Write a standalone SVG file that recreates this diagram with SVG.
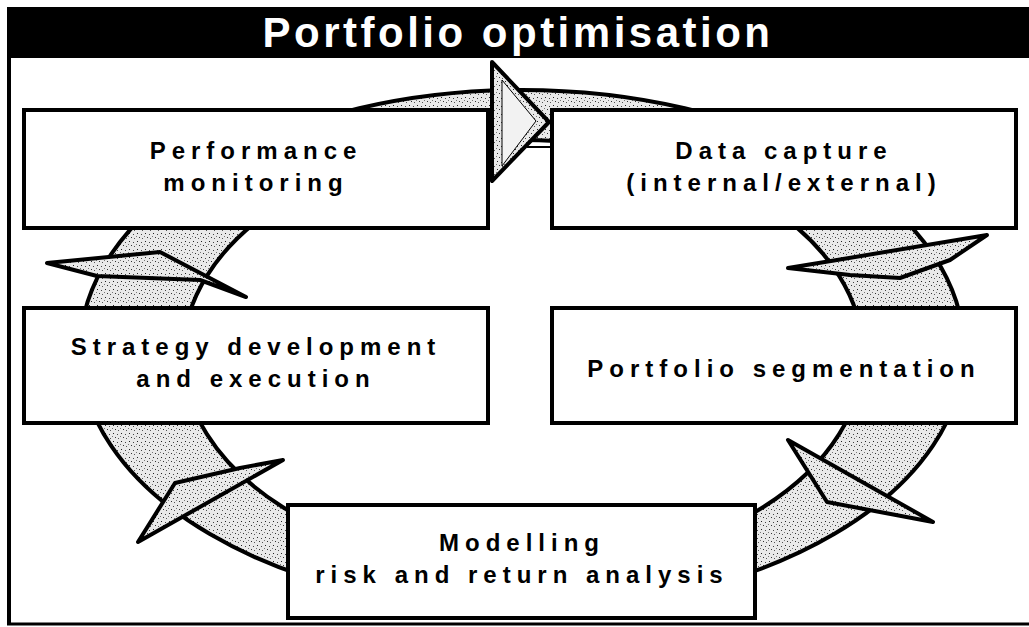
<svg xmlns="http://www.w3.org/2000/svg" width="1029" height="627" viewBox="0 0 1029 627">
<defs>
<pattern id="stip" width="8" height="8" patternUnits="userSpaceOnUse">
<rect width="8" height="8" fill="#e9e9e9"/>
<rect x="1" y="1" width="1" height="1" fill="#222"/>
<rect x="5" y="2" width="1" height="1" fill="#444"/>
<rect x="3" y="5" width="1" height="1" fill="#333"/>
<rect x="6" y="6" width="1" height="1" fill="#555"/>
<rect x="0" y="4" width="1" height="1" fill="#777"/>
</pattern>
<style>
.box{fill:#fff;stroke:#000;stroke-width:4}
.ring{fill:url(#stip);stroke:#000;stroke-width:4;fill-rule:evenodd}
.arr{fill:url(#stip);stroke:#000;stroke-width:4;stroke-linejoin:round}
.t{font-family:"Liberation Sans",Arial,sans-serif;font-weight:bold;font-size:24px;letter-spacing:6px;text-anchor:middle;fill:#000}
.title{font-family:"Liberation Sans",Arial,sans-serif;font-weight:bold;font-size:42px;letter-spacing:3.5px;text-anchor:middle;fill:#fff}
</style>
</defs>
<rect width="1029" height="627" fill="#fff"/>
<g id="frame">
<rect x="7" y="7" width="1022" height="51" fill="#000"/>
<line x1="9" y1="58" x2="9" y2="625" stroke="#000" stroke-width="4"/>
<line x1="7" y1="624" x2="1029" y2="624" stroke="#000" stroke-width="3"/>
<text class="title" x="518" y="47">Portfolio optimisation</text>
</g>
<g id="ring">
<path class="ring" d="M80,350 a442,260 0 1,0 884,0 a442,260 0 1,0 -884,0 Z M183,355 a340,215 0 1,0 680,0 a340,215 0 1,0 -680,0 Z"/>
</g>
<g id="performance">
<rect class="box" x="24" y="110" width="464" height="118"/>
<text class="t" x="256" y="159">Performance</text>
<text class="t" x="256" y="191">monitoring</text>
</g>
<g id="datacapture">
<rect class="box" x="552" y="110" width="464" height="118"/>
<text class="t" x="784" y="159">Data capture</text>
<text class="t" x="784" y="191">(internal/external)</text>
</g>
<g id="strategy">
<rect class="box" x="24" y="308" width="464" height="115"/>
<text class="t" x="256" y="355">Strategy development</text>
<text class="t" x="256" y="387">and execution</text>
</g>
<g id="segmentation">
<rect class="box" x="552" y="308" width="464" height="115"/>
<text class="t" x="784" y="377">Portfolio segmentation</text>
</g>
<g id="modelling">
<rect class="box" x="288" y="505" width="467" height="113"/>
<text class="t" x="522" y="551">Modelling</text>
<text class="t" x="522" y="583">risk and return analysis</text>
</g>
<g id="connectors">
<polygon class="arr" points="492,62 549,122 492,181"/>
<polygon points="502,80 536,121 502,166" fill="#f2f2f2" stroke="#000" stroke-width="1"/>
<line x1="527" y1="147" x2="552" y2="147" stroke="#000" stroke-width="2"/>
<polygon class="arr" points="788,268 837,260 987,235 950,260 900,278 850,275"/>
<polygon class="arr" points="788,440 933,522 880,512 827,502"/>
<polygon class="arr" points="138,542 175,483 240,468 283,460"/>
<polygon class="arr" points="47,263 160,252 246,297 200,280 97,276"/>
</g>
</svg>
